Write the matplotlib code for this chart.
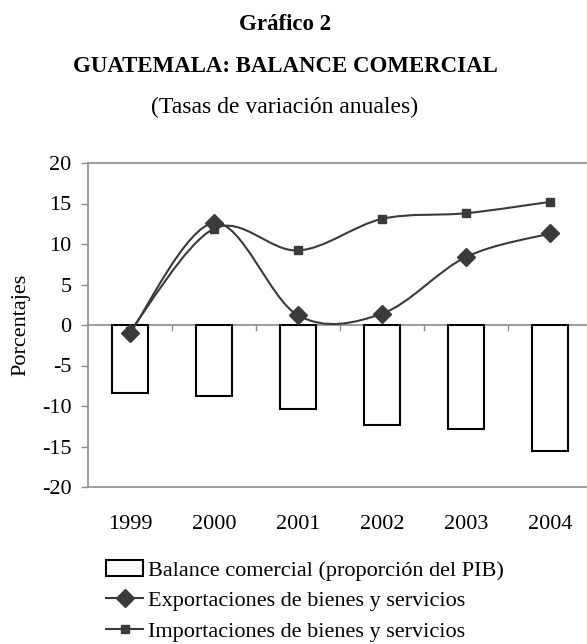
import matplotlib
matplotlib.use("Agg")
import matplotlib.pyplot as plt
from matplotlib.path import Path
from matplotlib.patches import PathPatch
from matplotlib.lines import Line2D
from matplotlib.patches import Patch

plt.rcParams["font.family"] = ["Liberation Serif", "DejaVu Serif"]

years = ["1999", "2000", "2001", "2002", "2003", "2004"]
balance = [-8.4, -8.8, -10.4, -12.4, -12.9, -15.6]
exportaciones = [-1.0, 12.6, 1.2, 1.4, 8.4, 11.3]
importaciones = [-0.8, 11.9, 9.2, 13.1, 13.8, 15.2]
yticks = [-20, -15, -10, -5, 0, 5, 10, 15, 20]

LINE = "#3a3a3a"
GRAY = "#8c8c8c"


def smooth_path(xs, ys):
    # curva suavizada tipo Excel (Bezier cubica tipo Catmull-Rom)
    verts = [(xs[0], ys[0])]
    codes = [Path.MOVETO]
    n = len(xs)
    for i in range(n - 1):
        i0 = max(i - 1, 0)
        i3 = min(i + 2, n - 1)
        c1 = (xs[i] + (xs[i + 1] - xs[i0]) / 6, ys[i] + (ys[i + 1] - ys[i0]) / 6)
        c2 = (xs[i + 1] - (xs[i3] - xs[i]) / 6, ys[i + 1] - (ys[i3] - ys[i]) / 6)
        verts += [c1, c2, (xs[i + 1], ys[i + 1])]
        codes += [Path.CURVE4] * 3
    return Path(verts, codes)


fig = plt.figure(figsize=(5.87, 6.44), dpi=100)
ax = fig.add_axes([88 / 587, (644 - 487) / 644, 504 / 587, 324 / 644])

x = list(range(len(years)))
ax.bar(x, balance, width=0.42, color="white", edgecolor="black", linewidth=1.5, zorder=2)
ax.axhline(0, color=GRAY, lw=1.2, zorder=1)
for b in [0.5, 1.5, 2.5, 3.5, 4.5]:
    ax.plot([b, b], [0, -0.6], color=GRAY, lw=1, zorder=1)

for vals, mk, ms in [(exportaciones, "D", 9), (importaciones, "s", 5.5)]:
    ax.add_patch(PathPatch(smooth_path(x, vals), facecolor="none", edgecolor=LINE, lw=1.5, zorder=3))
    ax.plot(x, vals, ls="none", marker=mk, ms=ms, color=LINE, zorder=4)

ax.set_xlim(-0.5, 5.5)
ax.set_ylim(-20, 20)
ax.set_yticks(yticks)
ax.set_yticklabels([str(v) for v in yticks])
ax.set_xticks(x)
ax.set_xticklabels(years)
ax.tick_params(axis="x", length=0, pad=20, labelsize=16)
ax.tick_params(axis="y", length=5, width=1, color=GRAY, pad=7, labelsize=16)
ax.spines["right"].set_visible(False)
for s in ["left", "bottom", "top"]:
    ax.spines[s].set_color(GRAY)
    ax.spines[s].set_linewidth(1.2)
ax.set_ylabel("Porcentajes", fontsize=16, labelpad=8)

fig.text(285 / 587, 1 - 24 / 644, "Gráfico 2", ha="center", va="center", fontsize=16.5, fontweight="bold")
fig.text(285 / 587, 1 - 66 / 644, "GUATEMALA: BALANCE COMERCIAL", ha="center", va="center", fontsize=16.5, fontweight="bold")
fig.text(285 / 587, 1 - 107 / 644, "(Tasas de variación anuales)", ha="center", va="center", fontsize=17)

handles = [
    Patch(facecolor="white", edgecolor="black", linewidth=1.5),
    Line2D([], [], color=LINE, lw=1.5, marker="D", ms=9),
    Line2D([], [], color=LINE, lw=1.5, marker="s", ms=5.5),
]
labels = ["Balance comercial (proporción del PIB)",
          "Exportaciones de bienes y servicios",
          "Importaciones de bienes y servicios"]
fig.legend(handles, labels, loc="upper left", bbox_to_anchor=(106 / 587, 1 - 560 / 644),
           frameon=False, fontsize=16, handlelength=1.67, handletextpad=0.22,
           labelspacing=0.45, borderpad=0, borderaxespad=0)

fig.savefig("out.png", dpi=100)
